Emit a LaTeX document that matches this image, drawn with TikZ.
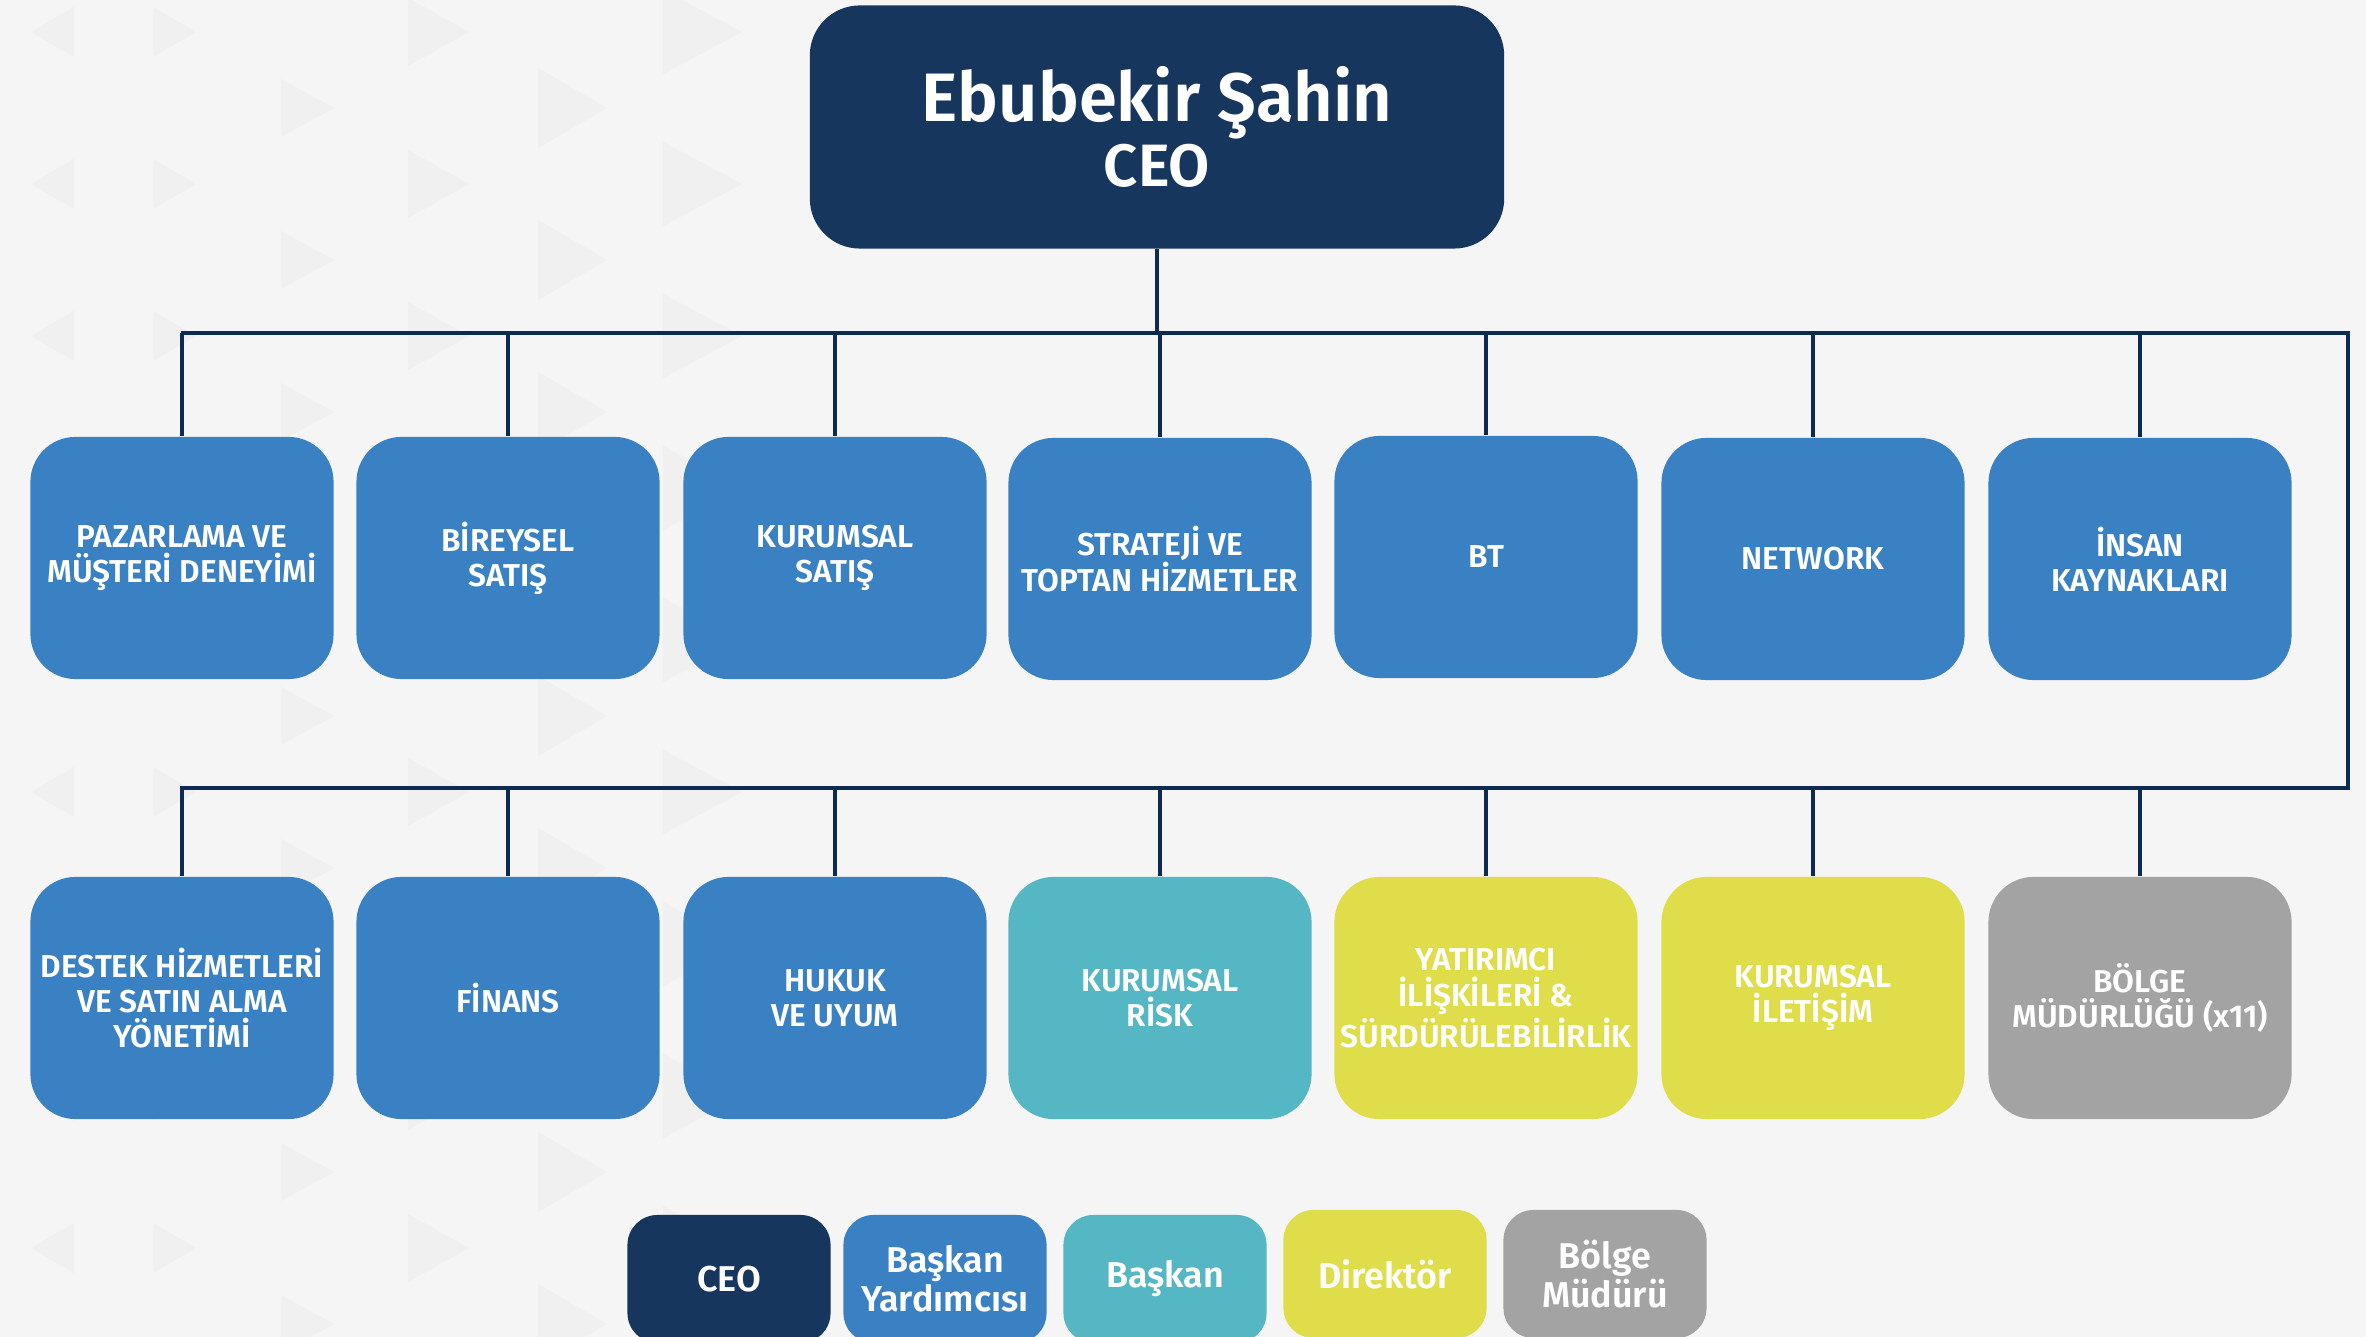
\documentclass[tikz,border=0pt]{standalone}
\usepackage{fontspec}
\setmainfont{Fira Sans SemiBold}
\usetikzlibrary{positioning}

\definecolor{ceonavy}{HTML}{16365E}
\definecolor{vpblue}{HTML}{3A81C4}
\definecolor{presteal}{HTML}{55B6C4}
\definecolor{diryellow}{HTML}{DFDD4A}
\definecolor{regiongray}{HTML}{A3A3A3}
\definecolor{linenavy}{HTML}{0D2B52}
\definecolor{paper}{HTML}{F5F5F5}
\definecolor{tri}{HTML}{F0F0F0}

\begin{document}
\begin{tikzpicture}[x=0.01cm,y=-0.01cm]
\tikzset{
  ceobox/.style={rectangle,rounded corners=5mm,fill=ceonavy,text=white,minimum width=6.94cm,minimum height=2.43cm,align=center,inner sep=0pt},
  unitbox/.style={rectangle,rounded corners=4.5mm,fill=vpblue,text=white,minimum width=3.03cm,minimum height=2.42cm,align=center,inner sep=1pt,font=\fontsize{9}{10}\selectfont},
  legendbox/.style={rectangle,rounded corners=3mm,text=white,minimum width=2.03cm,minimum height=1.28cm,align=center,inner sep=1pt,font=\fontsize{10.2}{11.2}\selectfont},
  orgline/.style={draw=linenavy,line width=0.9pt}
}
% background
\useasboundingbox (0,0) rectangle (2366,1337);
\fill[paper] (0,0) rectangle (2366,1337);
\begin{scope}
\clip (0,0) rectangle (2366,1337);
\foreach \tx/\tw/\th/\dir/\ty in {31/43/25/-1/32,153/43/25/1/32,281/53/29/1/108,408/61/34/1/32,538/69/40/1/108,663/79/42/1/32}{
  \foreach \k in {0,...,8}{
    \ifnum\dir<0
      \fill[tri] (\tx+\tw,\ty+152*\k-\th) -- (\tx,\ty+152*\k) -- (\tx+\tw,\ty+152*\k+\th) -- cycle;
    \else
      \fill[tri] (\tx,\ty+152*\k-\th) -- (\tx+\tw,\ty+152*\k) -- (\tx,\ty+152*\k+\th) -- cycle;
    \fi
  }
}
\end{scope}

% CEO
\node[ceobox,font=\fontsize{19.5}{18.6}\selectfont] (n_ceo) at (1157,127) {Ebubekir Şahin\\{\fontsize{17}{18.6}\selectfont CEO}};

% first row
\node[unitbox] (n_pazarlama) at (182,558) {PAZARLAMA VE\\MÜŞTERİ DENEYİMİ};
\node[unitbox] (n_bireysel) at (508,558) {BİREYSEL\\SATIŞ};
\node[unitbox] (n_kurumsal) at (835,558) {KURUMSAL\\SATIŞ};
\node[unitbox] (n_strateji) at (1160,559) {STRATEJİ VE\\TOPTAN HİZMETLER};
\node[unitbox] (n_bt) at (1486,557) {BT};
\node[unitbox] (n_network) at (1813,559) {NETWORK};
\node[unitbox] (n_insan) at (2140,559) {İNSAN\\KAYNAKLARI};

% second row
\node[unitbox] (n_destek) at (182,998) {DESTEK HİZMETLERİ\\VE SATIN ALMA\\YÖNETİMİ};
\node[unitbox] (n_finans) at (508,998) {FİNANS};
\node[unitbox] (n_hukuk) at (835,998) {HUKUK\\VE UYUM};
\node[unitbox,fill=presteal] (n_risk) at (1160,998) {KURUMSAL\\RİSK};
\node[unitbox,fill=diryellow] (n_yatirimci) at (1486,998) {YATIRIMCI\\İLİŞKİLERİ \&\\SÜRDÜRÜLEBİLİRLİK};
\node[unitbox,fill=diryellow] (n_iletisim) at (1813,998) {KURUMSAL\\İLETİŞİM};
\node[unitbox,fill=regiongray] (n_bolge) at (2140,998) {BÖLGE\\MÜDÜRLÜĞÜ (x11)};

% bus lines
\coordinate (c_top_l) at (181,333);
\coordinate (c_top_r) at (2348,333);
\coordinate (c_low_r) at (2348,788);
\coordinate (c_low_l) at (180,788);
\draw[orgline] (n_ceo.south) -- (n_ceo.south |- c_top_l);
\draw[orgline] (c_top_l) -- (c_top_r) -- (c_low_r) -- (c_low_l);
\draw[orgline] (n_pazarlama.north) -- (n_pazarlama.north |- c_top_l);
\draw[orgline] (n_bireysel.north) -- (n_bireysel.north |- c_top_l);
\draw[orgline] (n_kurumsal.north) -- (n_kurumsal.north |- c_top_l);
\draw[orgline] (n_strateji.north) -- (n_strateji.north |- c_top_l);
\draw[orgline] (n_bt.north) -- (n_bt.north |- c_top_l);
\draw[orgline] (n_network.north) -- (n_network.north |- c_top_l);
\draw[orgline] (n_insan.north) -- (n_insan.north |- c_top_l);
\draw[orgline] (n_destek.north) -- (n_destek.north |- c_low_l);
\draw[orgline] (n_finans.north) -- (n_finans.north |- c_low_l);
\draw[orgline] (n_hukuk.north) -- (n_hukuk.north |- c_low_l);
\draw[orgline] (n_risk.north) -- (n_risk.north |- c_low_l);
\draw[orgline] (n_yatirimci.north) -- (n_yatirimci.north |- c_low_l);
\draw[orgline] (n_iletisim.north) -- (n_iletisim.north |- c_low_l);
\draw[orgline] (n_bolge.north) -- (n_bolge.north |- c_low_l);

% legend
\node[legendbox,fill=ceonavy] (l_ceo) at (729,1279) {CEO};
\node[legendbox,fill=vpblue] (l_yardimci) at (945,1279) {Başkan\\Yardımcısı};
\node[legendbox,fill=presteal] (l_baskan) at (1165,1279) {Başkan};
\node[legendbox,fill=diryellow] (l_direktor) at (1385,1274) {Direktör};
\node[legendbox,fill=regiongray] (l_bolge) at (1605,1274) {Bölge\\Müdürü};
\end{tikzpicture}
\end{document}
